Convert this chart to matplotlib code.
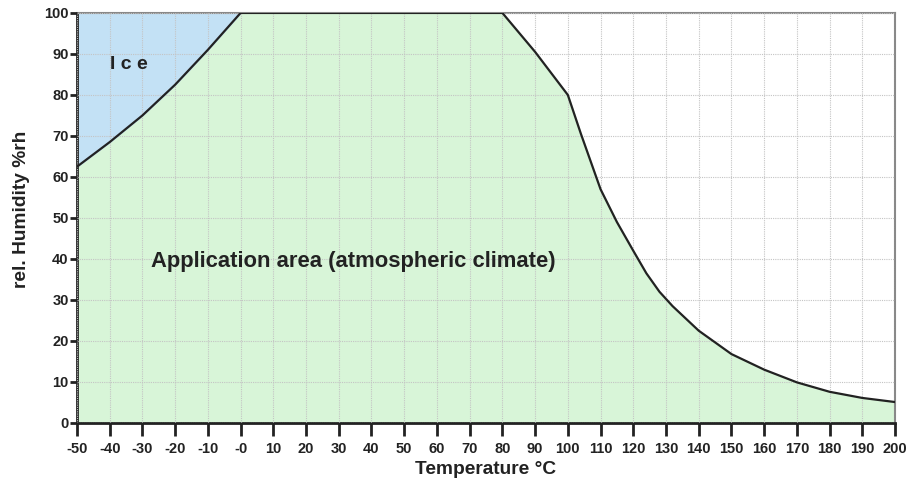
import matplotlib.pyplot as plt

# boundary of the application area
temp_limit = [-50, -40, -30, -20, -10, 0, 80, 90, 100, 104, 110, 115, 120, 124, 128, 132, 140, 150, 160, 170, 180, 190, 200]
rh_limit = [62.5, 68.5, 75, 82.5, 91, 100, 100, 90.5, 80, 70.5, 57, 49, 42, 36.5, 32, 28.5, 22.5, 16.8, 13, 9.9, 7.6, 6.1, 5.1]

# ice boundary
temp_ice = [-50, -40, -30, -20, -10, 0]
rh_ice = [62.5, 68.5, 75, 82.5, 91, 100]

x_ticks = list(range(-50, 201, 10))
x_labels = [str(t) if t != 0 else '-0' for t in x_ticks]
y_ticks = list(range(0, 101, 10))

plt.rcParams['font.family'] = ['Liberation Sans', 'DejaVu Sans']

fig = plt.figure(figsize=(9.11, 4.79), dpi=100)
ax = fig.add_axes([0.0845, 0.117, 0.898, 0.856])

ax.fill_between(temp_limit, 0, rh_limit, color='#d8f5d8', zorder=1)
ax.fill_between(temp_ice, rh_ice, 100, color='#c3e1f5', zorder=1)
ax.plot(temp_limit, rh_limit, color='#222222', lw=1.6, zorder=3)

ax.set_xlim(-50, 200)
ax.set_ylim(0, 100)
ax.set_xticks(x_ticks)
ax.set_xticklabels(x_labels, fontsize=10.5, fontweight='bold', color='#222222')
ax.set_yticks(y_ticks)
ax.set_yticklabels([str(v) for v in y_ticks], fontsize=10.5, fontweight='bold', color='#222222')
ax.tick_params(axis='x', length=9, width=2, color='#222222', pad=5)
ax.tick_params(axis='y', length=5, width=2, color='#222222', pad=1)

ax.grid(True, color='#c4c4c4', linestyle=(0, (1, 1)), linewidth=0.8, zorder=2)
ax.set_axisbelow(False)

for side in ['left', 'bottom']:
    ax.spines[side].set_color('#222222')
    ax.spines[side].set_linewidth(2)
for side in ['top', 'right']:
    ax.spines[side].set_color('#888888')
    ax.spines[side].set_linewidth(1.5)

ax.text(-40, 87.5, 'I c e', fontsize=14, fontweight='bold', color='#222222', va='center', ha='left', zorder=4)
ax.text(-27.5, 39.3, 'Application area (atmospheric climate)', fontsize=15.8, fontweight='bold', color='#222222', va='center', ha='left', zorder=4)

ax.set_xlabel('Temperature °C', fontsize=13.8, fontweight='bold', color='#222222', labelpad=3)
ax.set_ylabel('rel. Humidity %rh', fontsize=13.8, fontweight='bold', color='#222222', labelpad=4)
ax.yaxis.set_label_coords(-0.057, 0.52)

fig.savefig('out.png', dpi=100)
